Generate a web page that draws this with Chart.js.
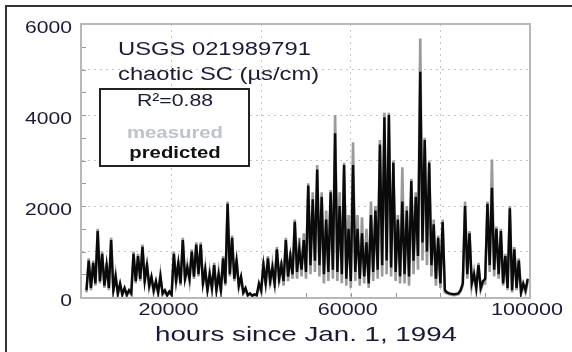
<!DOCTYPE html>
<html>
<head>
<meta charset="utf-8">
<title>USGS 021989791 chaotic SC</title>
<script src="https://cdn.jsdelivr.net/npm/chart.js@4.4.0/dist/chart.umd.min.js"></script>
<style>
  html, body { margin: 0; padding: 0; background: #fff; }
  canvas { display: block; }
</style>
</head>
<body>
<canvas id="scChart" width="572" height="352"></canvas>
<script>
// samples every 500 hours, starting at hour 1000
const firstHour = 1000;
const hourStep = 500;

const measured = [
  100, 850, 150, 800, 250, 1500, 300, 1000, 200, 750,
  150, 1300, 100, 500, 50, 250, 40, 180, 30, 120,
  50, 1000, 300, 950, 350, 1150, 300, 750, 200, 400,
  100, 300, 80, 500, 50, 120, 30, 100, 40, 1000,
  300, 800, 250, 1300, 350, 700, 350, 1050, 400, 1200,
  450, 1200, 250, 650, 100, 550, 150, 750, 100, 550,
  100, 900, 250, 2100, 450, 1350, 350, 850, 200, 400,
  80, 150, 30, 60, 20, 50, 30, 250, 100, 800,
  250, 900, 250, 700, 200, 1100, 300, 800, 250, 1300,
  350, 1000, 400, 1700, 400, 1300, 450, 1400, 400, 2500,
  500, 2300, 550, 2900, 450, 2300, 300, 1900, 350, 2350,
  400, 4000, 350, 2300, 300, 2950, 250, 1800, 200, 3400,
  350, 1800, 250, 1750, 300, 1500, 200, 2100, 350, 2000,
  400, 3450, 450, 4050, 500, 4050, 450, 3000, 350, 1800,
  300, 2850, 300, 2000, 250, 2600, 500, 2300, 600, 5680,
  800, 3500, 700, 3000, 450, 1700, 250, 1350, 200, 1700,
  100, 80, 60, 50, 40, 50, 60, 120, 250, 2100,
  400, 1450, 250, 550, 150, 750, 150, 300, 300, 2100,
  550, 3020, 450, 1550, 400, 1500, 250, 950, 150, 2000,
  100, 1100, 150, 850, 80, 250, 100, 350
];

const predicted = [
  150, 800, 200, 750, 300, 1450, 350, 950, 250, 700,
  200, 1250, 150, 450, 80, 300, 60, 200, 50, 150,
  80, 950, 350, 900, 400, 1100, 350, 700, 250, 450,
  150, 350, 100, 450, 80, 150, 40, 120, 50, 950,
  350, 750, 300, 1250, 400, 650, 400, 1000, 450, 1150,
  500, 1150, 300, 600, 150, 500, 200, 700, 150, 500,
  150, 850, 300, 2050, 500, 1300, 400, 800, 250, 450,
  100, 200, 40, 80, 30, 60, 40, 300, 150, 700,
  300, 850, 350, 650, 300, 1050, 400, 700, 350, 1250,
  450, 900, 500, 1650, 550, 1050, 600, 1250, 550, 2450,
  700, 2150, 800, 2800, 700, 2200, 500, 1700, 550, 2300,
  600, 3600, 550, 2000, 500, 2900, 400, 1500, 350, 2900,
  550, 1500, 400, 1400, 450, 1200, 300, 1800, 550, 1900,
  600, 3350, 700, 3950, 800, 4000, 650, 2950, 550, 1700,
  450, 2100, 500, 1900, 450, 2550, 800, 2200, 900, 4950,
  1200, 3450, 1000, 2950, 700, 1600, 400, 1300, 300, 1650,
  150, 100, 80, 70, 60, 70, 80, 150, 300, 2000,
  500, 1400, 300, 500, 200, 700, 200, 350, 400, 2050,
  700, 2400, 600, 1500, 500, 1450, 300, 900, 200, 1950,
  150, 1050, 200, 800, 100, 300, 150, 400
];

const yTickLabels = [0, 2000, 4000, 6000];
const xTickLabels = [20000, 60000, 100000];
const stationLines = ['USGS 021989791', 'chaotic SC (\u00b5s/cm)'];
const fitLabel = 'R\u00b2=0.88';
const xAxisTitle = 'hours since Jan. 1, 1994';

const textColor = '#1a1a36';
const fontName = '"Liberation Sans", Arial, sans-serif';

function toPoints(values) {
  const points = [];
  for (let i = 0; i < values.length; i++) {
    points.push({ x: firstHour + i * hourStep, y: values[i] });
  }
  return points;
}

// the lettering in this figure is wide, so it gets a horizontal stretch
function wideText(ctx, text, x, y, size, stretch, align, weight, color) {
  ctx.save();
  ctx.font = (weight || 'normal') + ' ' + size + 'px ' + fontName;
  ctx.fillStyle = color || textColor;
  ctx.textAlign = align;
  ctx.textBaseline = 'alphabetic';
  ctx.translate(x, y);
  ctx.scale(stretch, 1);
  ctx.fillText(text, 0, 0);
  ctx.restore();
}

function innerGrid(max) {
  return function(c) {
    const v = c.tick ? c.tick.value : 0;
    return (v > 0 && v < max) ? '#c4c4c4' : 'rgba(0,0,0,0)';
  };
}

const decor = {
  id: 'decor',
  beforeDraw: function(chart) {
    const ctx = chart.ctx;
    ctx.save();
    ctx.fillStyle = '#fff';
    ctx.fillRect(0, 0, chart.width, chart.height);
    // outer frame, top and left only
    ctx.strokeStyle = '#333';
    ctx.lineWidth = 2;
    ctx.beginPath();
    ctx.moveTo(6, chart.height);
    ctx.lineTo(6, 6);
    ctx.lineTo(chart.width, 6);
    ctx.stroke();
    ctx.restore();
  },
  beforeDatasetsDraw: function(chart) {
    const ctx = chart.ctx;
    const a = chart.chartArea;
    const xs = chart.scales.x;
    const ys = chart.scales.y;
    ctx.save();
    ctx.strokeStyle = '#b8b8b8';
    ctx.lineWidth = 2;
    ctx.strokeRect(a.left - 1, a.top, a.right - a.left + 1, a.bottom - a.top + 1);
    // short inner tick marks
    ctx.strokeStyle = '#9a9a9a';
    ctx.lineWidth = 1;
    ctx.beginPath();
    for (let v = 500; v < 6000; v += 500) {
      const py = Math.round(ys.getPixelForValue(v)) + 0.5;
      ctx.moveTo(a.left, py);
      ctx.lineTo(a.left + 4, py);
    }
    for (let h = 10000; h < 100000; h += 10000) {
      const px = Math.round(xs.getPixelForValue(h)) + 0.5;
      ctx.moveTo(px, a.bottom);
      ctx.lineTo(px, a.bottom - 4);
    }
    ctx.stroke();
    ctx.restore();
  },
  afterDatasetsDraw: function(chart) {
    const ctx = chart.ctx;
    const a = chart.chartArea;
    const xs = chart.scales.x;
    const ys = chart.scales.y;

    yTickLabels.forEach(function(v) {
      wideText(ctx, String(v), 72, ys.getPixelForValue(v) + 9, 17, 1.24, 'right');
    });
    xTickLabels.forEach(function(v) {
      wideText(ctx, String(v), xs.getPixelForValue(v) - 3, 315, 17, 1.27, 'center');
    });
    wideText(ctx, xAxisTitle, (a.left + a.right) / 2, 341, 21, 1.32, 'center');

    wideText(ctx, stationLines[0], 118, 55, 18, 1.32, 'left');
    wideText(ctx, stationLines[1], 118, 80, 18, 1.32, 'left');

    // legend box
    ctx.save();
    ctx.fillStyle = '#fff';
    ctx.fillRect(100, 89, 149, 77);
    ctx.strokeStyle = '#222';
    ctx.lineWidth = 2;
    ctx.strokeRect(100, 89, 149, 77);
    ctx.restore();
    wideText(ctx, fitLabel, 175, 106, 17, 1.25, 'center');
    wideText(ctx, 'measured', 175, 138, 16, 1.27, 'center', 'bold', '#bcc3cb');
    wideText(ctx, 'predicted', 175, 158, 16, 1.27, 'center', 'bold', '#111');
  }
};

document.addEventListener('DOMContentLoaded', function() {
  const canvas = document.getElementById('scChart');

  new Chart(canvas, {
    type: 'line',
    data: {
      datasets: [
        {
          label: 'measured',
          data: toPoints(measured),
          borderColor: '#9a9a9a',
          borderWidth: 2.6,
          pointRadius: 0,
          tension: 0,
          order: 2
        },
        {
          label: 'predicted',
          data: toPoints(predicted),
          borderColor: '#0a0a0a',
          borderWidth: 2.4,
          pointRadius: 0,
          tension: 0,
          order: 1
        }
      ]
    },
    options: {
      responsive: false,
      animation: false,
      layout: { padding: { left: 82, top: 24, right: 42, bottom: 55 } },
      plugins: {
        legend: { display: false },
        tooltip: { enabled: false }
      },
      scales: {
        x: {
          type: 'linear',
          min: 0,
          max: 100000,
          ticks: { display: false, stepSize: 20000 },
          grid: { color: innerGrid(100000), drawTicks: false, lineWidth: 1 },
          border: { display: false, dash: [2, 4] }
        },
        y: {
          min: 0,
          max: 6000,
          ticks: { display: false, stepSize: 1000 },
          grid: { color: innerGrid(6000), drawTicks: false, lineWidth: 1 },
          border: { display: false, dash: [2, 4] }
        }
      }
    },
    plugins: [decor]
  });
});
</script>
</body>
</html>
